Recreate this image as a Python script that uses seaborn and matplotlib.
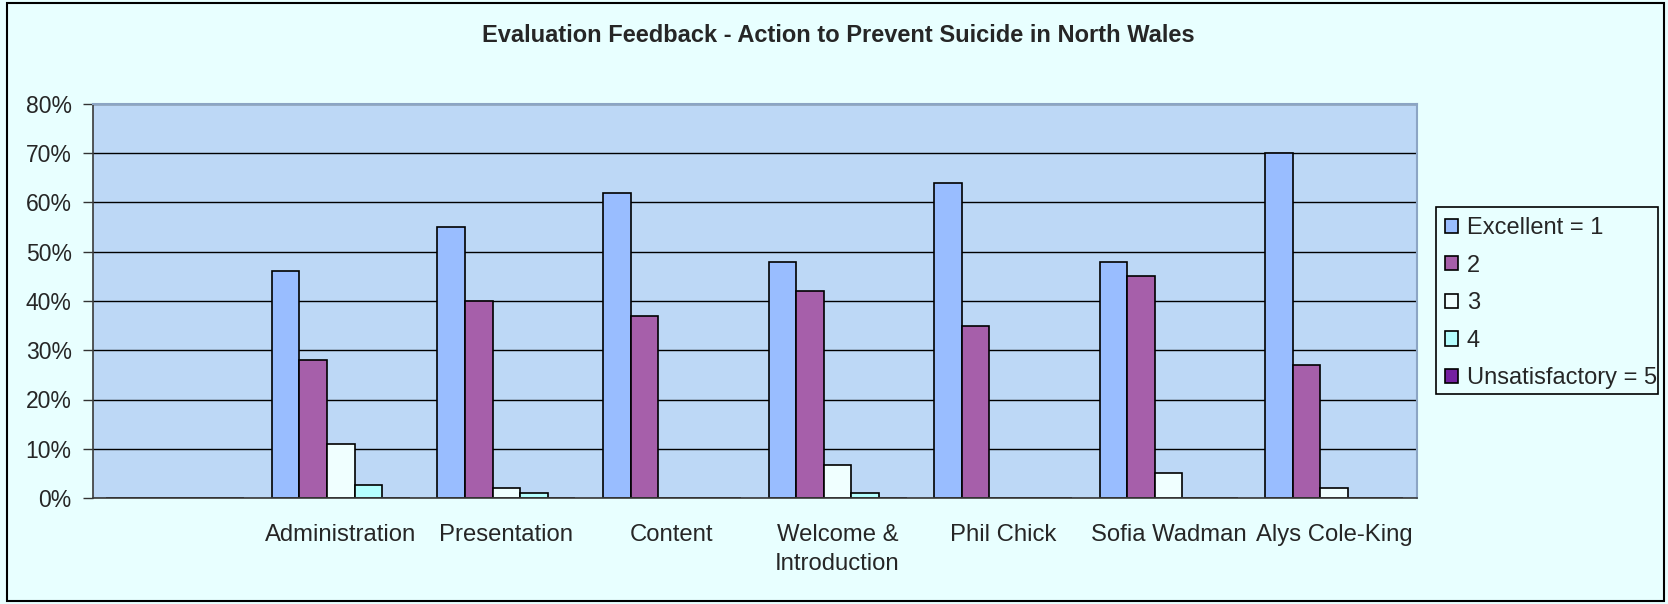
import matplotlib
matplotlib.use("Agg")
import matplotlib.pyplot as plt
from matplotlib.patches import Rectangle
import pandas as pd
import seaborn as sns

# categories along the x axis (the first slot is left blank in the original)
categories = ["", "Administration", "Presentation", "Content",
              "Welcome &\nIntroduction", "Phil Chick", "Sofia Wadman",
              "Alys Cole-King"]
ratings = ["Excellent = 1", "2", "3", "4", "Unsatisfactory = 5"]

# percentages per rating, one value per category
excellent = [0, 46, 55, 62, 48, 64, 48, 70]
rating_2 = [0, 28, 40, 37, 42, 35, 45, 27]
rating_3 = [0, 11, 2, 0, 6.7, 0, 5, 2]
rating_4 = [0, 2.7, 1, 0, 1, 0, 0, 0]
unsatisfactory = [0, 0, 0, 0, 0, 0, 0, 0]

colors = ["#99BDFF", "#A65FAA", "#F0FFFF", "#B5FFFF", "#7420A0"]
fig_bg = "#E8FFFF"
plot_bg = "#BDD8F6"

rows = []
for rating, values in zip(ratings, [excellent, rating_2, rating_3,
                                    rating_4, unsatisfactory]):
    for cat, v in zip(categories, values):
        rows.append({"category": cat, "rating": rating, "value": v})
df = pd.DataFrame(rows)

sns.set_style("white")
plt.rcParams["font.family"] = ["Liberation Sans", "DejaVu Sans"]

fig = plt.figure(figsize=(16.68, 6.04), dpi=100, facecolor=fig_bg)
ax = fig.add_axes([92.5 / 1668, 106 / 604, 1324.5 / 1668, 394 / 604])
ax.set_facecolor(plot_bg)

sns.barplot(data=df, x="category", y="value", hue="rating",
            order=categories, hue_order=ratings, palette=colors,
            width=5 / 6, edgecolor="black", linewidth=1.2,
            saturation=1, ax=ax, legend=True)

ax.set_ylim(0, 80)
ax.set_xlim(-0.5, len(categories) - 0.5)
ax.set_yticks(range(0, 81, 10))
ax.set_yticklabels([f"{t}%" for t in range(0, 81, 10)])
ax.set_xlabel("")
ax.set_ylabel("")
ax.set_axisbelow(True)
ax.yaxis.grid(True, color="black", linewidth=1)

# category tick marks sit between the groups, pointing inwards
ax.set_xticks([i + 0.5 for i in range(len(categories) - 1)], minor=True)
ax.tick_params(axis="x", which="major", length=0, pad=18.5, labelsize=17.2)
ax.tick_params(axis="x", which="minor", direction="in", length=7,
               width=1, color="#333333")
ax.tick_params(axis="y", direction="out", length=7, width=1,
               color="#333333", pad=8, labelsize=16.5, left=True)
for lbl in ax.get_xticklabels():
    lbl.set_linespacing(1.45)

for side in ["left", "bottom"]:
    ax.spines[side].set_color("#3A3A3A")
    ax.spines[side].set_linewidth(1.2)
for side in ["top", "right"]:
    ax.spines[side].set_color("#8CA5C4")
    ax.spines[side].set_linewidth(1.5)

# legend entries without their own frame; the box is drawn separately
handles, labels = ax.get_legend_handles_labels()
ax.legend(handles, labels, loc="upper left",
          bbox_to_anchor=(1445 / 1668, 1 - 217 / 604),
          bbox_transform=fig.transFigure, fontsize=17,
          frameon=False, handlelength=0.55, handleheight=0.55,
          handletextpad=0.38, labelspacing=0.66,
          borderpad=0, borderaxespad=0)
fig.patches.append(Rectangle((1436 / 1668, 1 - 394 / 604), 222 / 1668,
                             187 / 604, transform=fig.transFigure,
                             facecolor=fig_bg, edgecolor="black",
                             linewidth=1.2, zorder=-1))

fig.text(838 / 1668, 1 - 35 / 604,
         "Evaluation Feedback - Action to Prevent Suicide in North Wales",
         ha="center", va="center", fontsize=17, fontweight="bold")

# outer chart frame
fig.patches.append(Rectangle((7 / 1668, 3 / 604), 1657 / 1668, 598 / 604,
                             transform=fig.transFigure, fill=False,
                             edgecolor="black", linewidth=1.5))

fig.savefig("out.png", dpi=100, facecolor=fig_bg)
